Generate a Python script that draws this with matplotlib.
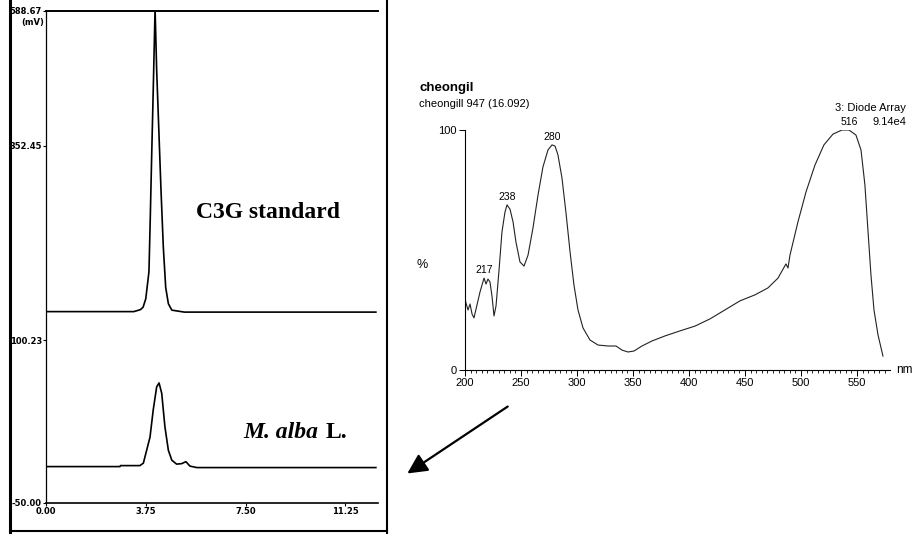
import numpy as np
import matplotlib.pyplot as plt
from matplotlib.lines import Line2D
from matplotlib.patches import FancyArrowPatch
from matplotlib.ticker import MultipleLocator

# chromatogram (time in min, signal scaled 0-100 of the panel height)
c3g_t = [0.0, 3.3, 3.55, 3.65, 3.75, 3.87, 3.92, 3.97, 4.04, 4.10, 4.16, 4.24, 4.32, 4.41, 4.50, 4.60, 4.73, 5.2, 12.4]
c3g_y = [38.9, 38.9, 39.3, 39.8, 41.5, 47, 58, 70, 86, 100.5, 88, 76, 64, 52, 43.8, 40.5, 39.2, 38.8, 38.8]
alba_t = [0.0, 2.78, 2.8, 3.53, 3.66, 3.91, 4.03, 4.16, 4.25, 4.35, 4.47, 4.60, 4.73, 4.91, 5.10, 5.26, 5.41, 5.67, 12.4]
alba_y = [7.4, 7.4, 7.6, 7.6, 8.1, 13.4, 18.9, 23.6, 24.4, 22.3, 15.5, 10.7, 8.7, 7.9, 8.0, 8.4, 7.5, 7.2, 7.2]
chrom_xticks = [0.0, 3.75, 7.50, 11.25]
chrom_xlabels = ["0.00", "3.75", "7.50", "11.25"]
chrom_yticks = [100, 72.6, 33.1, 0]
chrom_ylabels = ["588.67", "352.45", "100.23", "-50.00"]

# UV spectrum (nm, %)
wl = [199, 200.9, 202.7, 204.5, 206.3, 208.0, 210.7, 213.4, 215.2, 217.0, 218.8, 220.5, 222.3, 224.1,
      225.9, 227.7, 230.4, 233.0, 235.7, 237.5, 240.2, 242.9, 245.5, 249.1, 252.7, 256.3, 260.7, 265.2,
      269.6, 274.1, 277.7, 280.4, 283.0, 286.6, 290.2, 293.8, 297.3, 300.9, 305.4, 311.6, 318.8, 327.7,
      334.8, 340.2, 345.5, 350.9, 358, 367, 378.6, 392, 405.4, 418.8, 432, 445.5, 458.9, 470.5, 479.5,
      486.6, 488.4, 490.2, 497.3, 504.5, 512.5, 520.5, 528.6, 536.6, 542.9, 549.1, 553.6, 557.1, 559.8,
      562.5, 565.2, 568.8, 573.2]
absorb = [31.3, 27.9, 25, 27.5, 23.3, 21.7, 27.1, 32.5, 35.4, 38.3, 35.8, 37.9, 36.7, 30.8,
          22.5, 26.7, 41.7, 57.5, 65.8, 68.8, 67, 61.7, 53.3, 45, 43.3, 47.9, 59.2, 72.9,
          84.6, 91.7, 93.8, 93.3, 89.6, 80, 65.4, 49.2, 35.4, 25, 17.5, 12.5, 10.4, 10,
          10, 8.3, 7.5, 7.9, 10, 12.1, 14.2, 16.3, 18.3, 21.3, 25, 28.8, 31.3, 34.2, 38.3,
          44.2, 42.5, 47.9, 61.7, 74.2, 85.4, 93.8, 98.3, 100, 100, 97.9, 91.7, 77.1, 58.3,
          39.6, 25, 14.6, 5.8]
peak_labels = ["217", "238", "280", "516"]
peak_idx = [9, 19, 30, 66]
spec_xticks = [200, 250, 300, 350, 400, 450, 500, 550]

W, H = 914, 534
fig = plt.figure(figsize=(W / 100, H / 100), dpi=100)

def fx(px):
    return px / W

def fy(py):
    return 1 - py / H

# outer frame of the left panel
fig.add_artist(Line2D([fx(10), fx(10)], [0, 1], color="black", lw=2.2))
fig.add_artist(Line2D([fx(387), fx(387)], [0, 1], color="black", lw=1.5))
fig.add_artist(Line2D([fx(10), fx(387)], [fy(531), fy(531)], color="black", lw=1.5))

# chromatogram
ax1 = fig.add_axes([fx(46), fy(503), fx(378 - 46), (503 - 11) / H])
ax1.plot(c3g_t, c3g_y, color="black", lw=1.2)
ax1.plot(alba_t, alba_y, color="black", lw=1.2)
ax1.set_xlim(0, 12.48)
ax1.set_ylim(0, 100)
ax1.spines["right"].set_visible(False)
ax1.spines["top"].set_linewidth(1.4)
ax1.spines["left"].set_linewidth(0.9)
ax1.spines["bottom"].set_linewidth(1.2)
ax1.set_xticks(chrom_xticks, chrom_xlabels)
ax1.set_yticks(chrom_yticks, chrom_ylabels)
ax1.tick_params(length=2, width=0.8, pad=1, labelsize=6)
for lab in ax1.get_xticklabels() + ax1.get_yticklabels():
    lab.set_fontweight("bold")
fig.text(fx(21), fy(22), "(mV)", fontsize=6, fontweight="bold", va="center")
fig.text(fx(268), fy(213), "C3G standard", family="Liberation Serif", fontsize=17,
         fontweight="bold", ha="center", va="center")
fig.text(fx(318), fy(432), "M. alba", family="Liberation Serif", fontsize=17,
         fontweight="bold", style="italic", ha="right", va="center")
fig.text(fx(326), fy(432), "L.", family="Liberation Serif", fontsize=17,
         fontweight="bold", ha="left", va="center")

# UV spectrum
ax2 = fig.add_axes([fx(465), fy(370), fx(425), 240 / H])
ax2.plot(wl, absorb, color="#222222", lw=0.8)
ax2.set_xlim(200, 579.5)
ax2.set_ylim(0, 100)
ax2.spines["right"].set_visible(False)
ax2.spines["top"].set_visible(False)
ax2.spines["left"].set_linewidth(0.8)
ax2.spines["bottom"].set_linewidth(0.8)
ax2.set_xticks(spec_xticks)
ax2.xaxis.set_minor_locator(MultipleLocator(5))
ax2.set_yticks([0, 100])
ax2.tick_params(which="major", length=4, width=0.7, pad=2, labelsize=8)
ax2.tick_params(which="minor", length=2, width=0.6)
for lab in ax2.get_xticklabels() + ax2.get_yticklabels():
    lab.set_family("Liberation Sans")
for lab, i in zip(peak_labels, peak_idx):
    ax2.annotate(lab, (wl[i], absorb[i]), xytext=(0, 2), textcoords="offset points",
                 ha="center", va="bottom", fontsize=7.5, family="Liberation Sans")
ax2.text(-0.1, 43.75, "%", transform=ax2.get_yaxis_transform(), fontsize=9,
         family="Liberation Sans", ha="center", va="center")
fig.text(fx(896), fy(370), "nm", fontsize=8.5, family="Liberation Sans", va="center")
fig.text(fx(419), fy(88), "cheongil", fontsize=9.5, fontweight="bold",
         family="Liberation Sans", va="center")
fig.text(fx(419), fy(104), "cheongill 947 (16.092)", fontsize=8,
         family="Liberation Sans", va="center")
fig.text(fx(906), fy(108), "3: Diode Array", fontsize=8,
         family="Liberation Sans", ha="right", va="center")
fig.text(fx(906), fy(122), "9.14e4", fontsize=8,
         family="Liberation Sans", ha="right", va="center")

# arrow from the spectrum to the chromatogram
fig.add_artist(FancyArrowPatch(
    (fx(510), fy(405)), (fx(405), fy(475)), transform=fig.transFigure,
    arrowstyle="-|>", mutation_scale=30, lw=1.6, color="black"))

fig.savefig("out.png", dpi=100)
